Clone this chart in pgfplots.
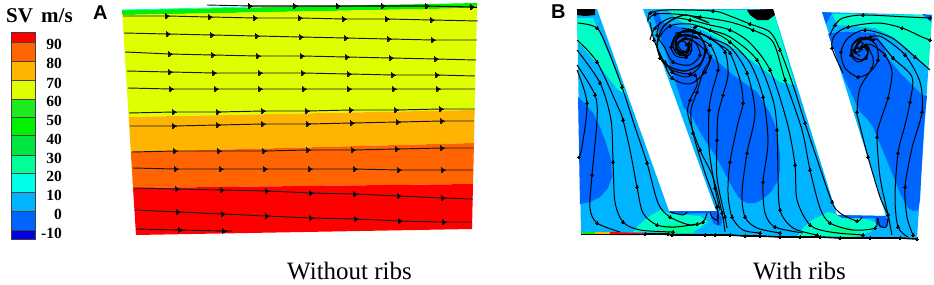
\documentclass[border=0pt]{standalone}
\usepackage{pgfplots}
\pgfplotsset{compat=1.18}
\usepackage{fontspec}
\setmainfont{Liberation Serif}
\newfontfamily\hv{Liberation Sans}
\definecolor{cR}{HTML}{FF0000}
\definecolor{cO}{HTML}{FF6400}
\definecolor{cA}{HTML}{FFB400}
\definecolor{cY}{HTML}{DFFF00}
\definecolor{cG1}{HTML}{1EEB1E}
\definecolor{cG2}{HTML}{00F000}
\definecolor{cG3}{HTML}{00E640}
\definecolor{cM}{HTML}{00FF96}
\definecolor{cC}{HTML}{00FFE6}
\definecolor{cL}{HTML}{00B4FF}
\definecolor{cD}{HTML}{0064FF}
\definecolor{cN}{HTML}{0000E0}
\definecolor{cT}{HTML}{00FFC8}
\newcommand\poly[2]{\addplot[fill=#1,draw=none] coordinates {#2} --cycle;}
\newcommand\cbar[3]{\addplot[fill=#1,draw=black!75,line width=0.5pt] coordinates {(11,#2)(35,#2)(35,#3)(11,#3)} --cycle;}
\newcommand\stA[1]{\addplot[black!90,line width=0.95pt,mark=triangle*,mark size=2.5pt,mark indices={2,3,4,5,6,7,8},mark options={rotate=-90,fill=black,solid,line width=0pt}] coordinates {#1};}
\newcommand\stB[1]{\addplot[black,line width=1pt,smooth,mark=*,mark repeat=2,mark phase=2,mark size=1.5pt,mark options={fill=black,line width=0pt}] coordinates {#1};}
\newcommand\stC[1]{\addplot[black,line width=1pt,smooth] coordinates {#1};}
\newcommand\lab[2]{\node[anchor=east,inner sep=0pt,font=\fontsize{15.5}{15.5}\selectfont\bfseries] at (axis cs:62,#1) {#2};}
\begin{document}
\begin{tikzpicture}
\begin{axis}[width=934pt,height=284pt,scale only axis,xmin=0,xmax=934,ymin=0,ymax=284,y dir=reverse,hide axis,clip=true]
\addplot[draw=none] coordinates {(0,0)(934,284)};
% colour bar
\cbar{cR}{32}{42}\cbar{cO}{42}{61}\cbar{cA}{61}{80}\cbar{cY}{80}{99}\cbar{cG1}{99}{117}\cbar{cG2}{117}{135}\cbar{cG3}{135}{155}\cbar{cM}{155}{173}\cbar{cC}{173}{192}\cbar{cL}{192}{211}\cbar{cD}{211}{230}\cbar{cN}{230}{239}
\lab{44}{90}\lab{63}{80}\lab{83}{70}\lab{101}{60}\lab{120}{50}\lab{139}{40}\lab{158}{30}\lab{176}{20}\lab{195}{10}\lab{214}{0}\lab{233}{-10}
\node[anchor=base west,inner sep=0pt,font=\fontsize{21}{21}\selectfont\bfseries] at (axis cs:6,22) {SV};
\node[anchor=base west,inner sep=0pt,font=\fontsize{21}{21}\selectfont\bfseries] at (axis cs:41,22) {m/s};
\node[anchor=base west,inner sep=0pt,font=\fontsize{20}{20}\selectfont\hv\bfseries] at (axis cs:93,19) {A};
\node[anchor=base west,inner sep=0pt,font=\fontsize{20}{20}\selectfont\hv\bfseries] at (axis cs:551,18) {B};
\node[anchor=base west,inner sep=0pt,font=\fontsize{25}{25}\selectfont] at (axis cs:287,279) {Without ribs};
\node[anchor=base west,inner sep=0pt,font=\fontsize{25}{25}\selectfont] at (axis cs:753,279) {With ribs};
% panel A
\poly{cG2}{(122,10)(477,3)(477,8)(122.3,15)}
\poly{cY}{(122.3,15)(477,8)(474.6,110)(128.7,117)}
\poly{cA}{(128.7,117)(474.6,110)(474,143)(130.8,152)}
\poly{cO}{(130.8,152)(474,143)(473,184)(133,188)}
\poly{cR}{(133,188)(473,184)(472,229)(136,235)}
\addplot[cC,line width=0.8pt] coordinates {(122,10)(250,7)};
\addplot[black,line width=1.1pt,mark=triangle*,mark size=2.5pt,mark options={rotate=-90,fill=black,line width=0pt}] coordinates {(250,6)(295,6)(338,6)(383,6)(427,6)(472,7)};
\addplot[black,line width=0.9pt] coordinates {(207,5)(250,6)};
\addplot[black,line width=0.9pt] coordinates {(472,7)(477,7)};
\stA{(123,16)(167,16)(210,17)(255,18)(300,18)(344,19)(387,19)(432,20)(478,21)}
\stA{(124,33)(168,34)(212,35)(257,36)(301,37)(346,38)(389,39)(433,40)(477,40)}
\stA{(125,52)(170,54)(213,55)(258,56)(302,56)(347,57)(391,58)(436,59)(476,60)}
\stA{(127,71)(170,72)(214,73)(260,73)(303,73)(349,74)(393,75)(437,75)(475,76)}
\stA{(128,88)(171,89)(216,89)(260,89)(304,89)(349,89)(394,89)(438,89)(475,89)}
\stA{(129,113)(174,112)(218,112)(263,111)(307,111)(351,110)(396,110)(441,109)(475,109)}
\stA{(130,126)(174,126)(218,125)(263,124)(308,124)(352,123)(398,122)(442,121)(474,121)}
\stA{(132,152)(175,151)(219,151)(264,151)(308,150)(353,150)(397,149)(442,148)(473,148)}
\stA{(133,168)(176,169)(221,169)(265,169)(310,169)(355,169)(399,170)(443,170)(473,170)}
\stA{(134,188)(177,189)(222,190)(267,191)(311,193)(355,194)(399,196)(443,198)(473,199)}
\stA{(135,210)(178,212)(223,214)(267,216)(311,218)(356,219)(400,221)(444,222)(472,222)}
\addplot[black,line width=0.9pt,mark=triangle*,mark size=2.4pt,mark indices={2,3},mark options={rotate=-90,fill=black,line width=0pt}] coordinates {(136,229)(180,230)(224,231)(232,231)};
% panel B base
\poly{cL}{(577,10)(597,9)(669,211)(716,211)(643,9)(773,9)(837,215)(886,216)(822,12)(932,15)(917,238)(581,234)}
% cyan
\poly{cT}{(577,18)(593,18)(626,94)(618,90)(600,67)(578,42)}
\poly{cT}{(668,10)(773,10)(795,85)(780,82)(740,52)(707,32)(678,20)}
\poly{cT}{(832,14)(925,15)(932,16)(928,68)(915,55)(895,38)(875,28)(838,25)}
\poly{cT}{(633,232)(640,224)(647,218)(660,210)(672,214)(700,216)(708,222)(700,228)(690,233)}
\poly{cT}{(797,236)(804,227)(812,220)(828,212)(838,215)(870,220)(878,224)(870,232)(855,237)}
\poly{cM}{(655,232)(665,225)(675,223)(690,227)(695,233)}
\poly{cM}{(825,234)(835,226)(848,226)(858,232)(860,236)}
% dark blue
\poly{cD}{(578,97)(585,104)(593,113)(600,127)(606,143)(611,160)(612,177)(608,188)(600,197)(590,202)(580,204)}
\poly{cD}{(652,12)(658,12)(662,22)(672,25)(690,30)(707,45)(712,57)(733,75)(757,92)(770,113)(775,125)(778,140)(780,155)(780,170)(777,182)(771,192)(763,199)(755,203)(747,203)(740,199)(735,192)(730,183)(718,160)(703,137)(692,117)(684,108)}
\poly{cD}{(828,34)(840,32)(858,32)(875,33)(885,48)(885,55)(902,75)(922,95)(927,96)(924,125)(921,180)(920,200)(918,210)(913,211)(908,208)(900,193)(888,163)(873,127)(868,120)(860,112)(845,80)(832,45)}
\poly{cD}{(822,12)(832,13)(826,24)}
\poly{cD}{(922,14)(932,15)(931,22)}
\poly{cD}{(669,211)(716,211)(716,213)(672,214)}
\poly{cD}{(710,212)(718,212)(722,218)(721,226)(714,224)(711,218)}
\poly{cD}{(837,215)(886,216)(886,218)(842,218)}
\poly{cD}{(875,218)(887,218)(888,226)(881,228)(876,224)}
% bottom strip
\poly{cG2}{(581,232)(595,232)(595,235)(581,235)}
\poly{cA}{(595,232)(610,232)(610,235)(595,235)}
\poly{cR}{(610,232)(645,233)(645,235)(610,235)}
\poly{cG2}{(660,233)(690,234)(690,235)(660,235)}
\poly{cM}{(840,236)(860,237)(860,238)(840,238)}
% black blobs
\poly{black}{(577,9)(595,9)(595,15)(585,16)(577,15)}
\poly{black}{(747,10)(773,9)(775,15)(768,20)(757,20)(750,15)}
% chamber 1 lines
\stB{(578,23)(597,28)(608,50)(622,87)(635,127)(647,163)(658,203)(670,217)(690,225)(703,222)(707,213)}
\stC{(670,212)(683,215)(687,212)}
\stB{(577,40)(597,62)(618,107)(623,120)(630,150)(637,187)(643,213)(657,225)(675,227)(697,224)}
\stB{(577,50)(600,83)(611,120)(613,162)(615,202)(623,222)(640,230)(673,232)}
\stB{(577,65)(595,95)(597,120)(592,175)(590,208)(597,223)(620,232)}
\stB{(577,70)(587,103)(582,147)(579,157)}
% chamber 2 lines
\stB{(648,22)(650,13)(667,10)(713,11)(730,16)(750,24)(770,32)(780,50)(793,85)(805,123)(818,162)(832,202)(840,213)(857,221)(862,217)}
\stB{(648,20)(655,14)(675,14)(700,17)(730,22)(753,30)(773,42)(785,80)(802,130)(810,170)(820,208)(830,223)(853,230)(875,228)(877,218)}
\stB{(650,40)(655,28)(670,18)(690,20)(710,25)(730,30)(750,43)(770,70)(787,122)(795,165)(797,200)(810,225)(830,232)(863,235)}
\stB{(685,46)(689,43)(692,50)(686,57)(676,56)(671,47)(676,35)(688,30)(700,36)(706,50)(700,66)(690,74)(672,70)(660,58)(658,40)(670,26)(690,24)(710,30)(730,37)(757,60)(773,100)(777,130)(778,172)(780,210)(793,228)(817,235)}
\stB{(687,45)(682,40)(676,45)(680,54)(690,54)(695,27)(715,33)(730,42)(750,63)(763,97)(768,142)(763,182)(765,213)(775,227)(803,233)}
\stB{(690,29)(710,38)(730,47)(747,73)(755,113)(747,153)(742,193)(745,217)(757,228)(780,233)}
\stB{(682,28)(700,33)(720,45)(730,53)(740,80)(743,103)(738,123)(730,162)(728,193)(732,217)(743,230)(760,233)}
\stB{(675,33)(695,32)(710,38)(725,52)(728,75)(723,95)(718,115)(717,140)(717,178)(725,217)(727,228)}
\stB{(672,45)(680,35)(695,37)(710,45)(717,60)(718,70)(712,92)(709,110)(709,148)(715,188)(720,210)}
\stB{(675,50)(682,40)(695,42)(710,57)(703,72)(697,92)(691,110)(693,133)(705,173)(717,207)(718,225)}
\stB{(665,60)(672,72)(685,77)(695,75)(697,85)(690,100)(688,115)(700,150)(713,177)(722,213)(725,232)}
\stB{(660,22)(657,35)(665,48)(673,62)(690,65)(700,55)(695,42)(685,38)(678,45)(683,52)}
\stB{(650,22)(654,40)(662,58)(672,78)(690,84)(705,72)(712,55)}
\addplot[black,line width=1.3pt,smooth] coordinates {(709,23)(685,15)(664,26)(657,47)(667,65)(685,71)(701,63)(705,47)(698,34)(685,31)(675,37)(673,47)(678,54)(685,55)(689,51)(689,47)(687,45)};
\addplot[black,line width=2.4pt,smooth] coordinates {(698,38)(685,35)(677,38)(676,47)(680,52)(686,52)(689,47)(686,44)};
\stC{(710,212)(712,217)(717,220)(718,210)}
% chamber 3 lines
\stB{(830,35)(835,25)(843,18)(863,15)(908,17)(930,18)}
\stB{(843,73)(832,48)(835,35)(848,27)(878,23)(902,28)(922,37)(930,40)}
\stB{(930,70)(915,57)(892,38)(865,30)(848,38)(841,52)(845,68)(858,77)(870,72)(878,60)(876,45)(865,38)(853,44)(851,55)(858,62)(866,58)(868,50)(862,46)(859,50)}
\stB{(861,51)(855,52)(858,42)(870,37)(882,37)(905,55)(920,82)(922,112)(912,148)(905,187)(907,217)(913,235)}
\stB{(863,50)(857,47)(862,40)(873,40)(878,40)(893,58)(912,77)(910,102)(905,125)(898,153)(895,197)(898,227)(908,237)}
\stB{(861,48)(866,45)(872,45)(885,55)(892,72)(888,98)(880,122)(877,137)(880,177)(888,215)(892,235)}
\stB{(860,56)(854,50)(860,42)(868,48)(873,58)(872,68)(860,88)(857,112)(859,122)(868,157)(880,197)(888,215)(889,222)}
\addplot[black,line width=1.4pt,smooth] coordinates {(875,40)(860,38)(852,46)(853,56)(862,60)(868,53)(864,47)(859,50)};
\stC{(878,218)(880,226)(886,227)(888,218)}
% bottom line
\addplot[black,line width=1.6pt,mark=*,mark repeat=1,mark size=1.4pt,mark options={fill=black,line width=0pt}] coordinates {(645,234)(668,234)(672,235)(705,235)(715,235)(730,235)(745,236)(760,236)(780,237)(800,237)(820,237)(840,238)(870,238)(900,238)(917,239)};
\addplot[black,line width=0.6pt] coordinates {(581,234)(645,234)};
\end{axis}
\end{tikzpicture}
\end{document}
